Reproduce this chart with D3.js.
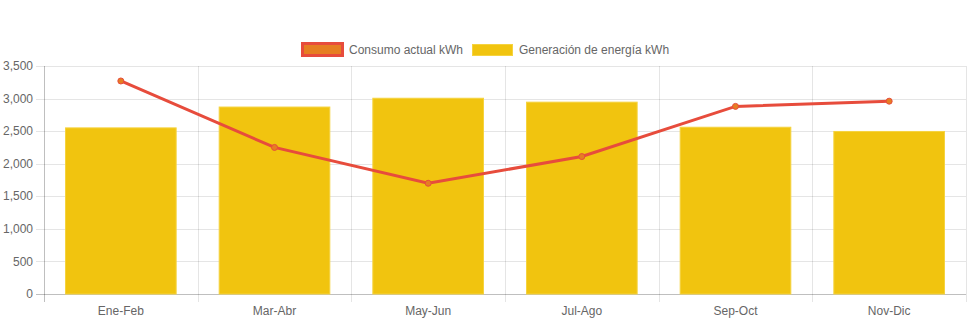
<!DOCTYPE html>
<html><head><meta charset="utf-8">
<script src="https://cdn.jsdelivr.net/npm/d3@7"></script>
<style>body{margin:0;background:#fff}svg{display:block}text{font-family:"Liberation Sans",Arial,Helvetica,sans-serif}</style>
</head><body><svg id="c" width="971" height="323"></svg>
<script>
const categories = ["Ene-Feb","Mar-Abr","May-Jun","Jul-Ago","Sep-Oct","Nov-Dic"];
const consumo = [3270, 2250, 1700, 2110, 2880, 2960];
const generacion = [2550, 2870, 3005, 2945, 2560, 2495];
const yTicks = [0,500,1000,1500,2000,2500,3000,3500];
const seriesNames = ["Consumo actual kWh","Generación de energía kWh"];

const svg = d3.select("#c");
const L=44, R=966, T=66, B=294;
const x = d3.scaleBand().domain(categories).range([L,R]).paddingInner(0).paddingOuter(0);
const y = d3.scaleLinear().domain([0,3500]).range([B,T]);
const grid = "rgba(0,0,0,0.1)";

// horizontal grid
const gy = svg.append("g");
yTicks.forEach(t=>{
  gy.append("line").attr("x1",L-8).attr("x2",R).attr("y1",Math.round(y(t))+0.5).attr("y2",Math.round(y(t))+0.5)
    .attr("stroke", t===0? "rgba(0,0,0,0.25)":grid).attr("stroke-width",1);
  gy.append("text").attr("x",L-11).attr("y",y(t)).attr("dy","0.35em").attr("text-anchor","end")
    .attr("font-size",12).attr("fill","#666").text(d3.format(",")(t));
});
// vertical grid
const bounds = categories.map(c=>x(c)).concat([R]);
bounds.forEach((b,i)=>{
  svg.append("line").attr("x1",Math.round(b)+0.5).attr("x2",Math.round(b)+0.5).attr("y1",T).attr("y2",B+8)
    .attr("stroke", i===0? "rgba(0,0,0,0.25)":grid);
});
// x labels
categories.forEach(c=>{
  svg.append("text").attr("x",x(c)+x.bandwidth()/2).attr("y",311).attr("dy","0.35em").attr("text-anchor","middle")
    .attr("font-size",12).attr("fill","#666").text(c);
});
// bars
const bw = x.bandwidth()*0.72;
svg.append("g").selectAll("rect").data(generacion).join("rect")
  .attr("x",(d,i)=>x(categories[i])+(x.bandwidth()-bw)/2)
  .attr("y",d=>y(d)).attr("width",bw).attr("height",d=>B-y(d))
  .attr("fill","#f1c40f").attr("stroke","#f5d33f").attr("stroke-width",1);
// line
const line = d3.line().x((d,i)=>x(categories[i])+x.bandwidth()/2).y(d=>y(d));
svg.append("path").datum(consumo).attr("d",line).attr("fill","none").attr("stroke","#e74c3c").attr("stroke-width",3);
svg.append("g").selectAll("circle").data(consumo).join("circle")
  .attr("cx",(d,i)=>x(categories[i])+x.bandwidth()/2).attr("cy",d=>y(d)).attr("r",3)
  .attr("fill","#e67e22").attr("stroke","#e74c3c").attr("stroke-width",1);
// legend
const lg = svg.append("g");
lg.append("rect").attr("x",302.5).attr("y",43.5).attr("width",40).attr("height",12)
  .attr("fill","#e67e22").attr("stroke","#e74c3c").attr("stroke-width",3);
lg.append("text").attr("x",349).attr("y",50).attr("dy","0.35em").attr("font-size",12).attr("fill","#666").text(seriesNames[0]);
lg.append("rect").attr("x",472.5).attr("y",44.5).attr("width",40).attr("height",11)
  .attr("fill","#f1c40f").attr("stroke","#f5d33f").attr("stroke-width",1);
lg.append("text").attr("x",519).attr("y",50).attr("dy","0.35em").attr("font-size",12).attr("fill","#666").text(seriesNames[1]);
</script></body></html>
